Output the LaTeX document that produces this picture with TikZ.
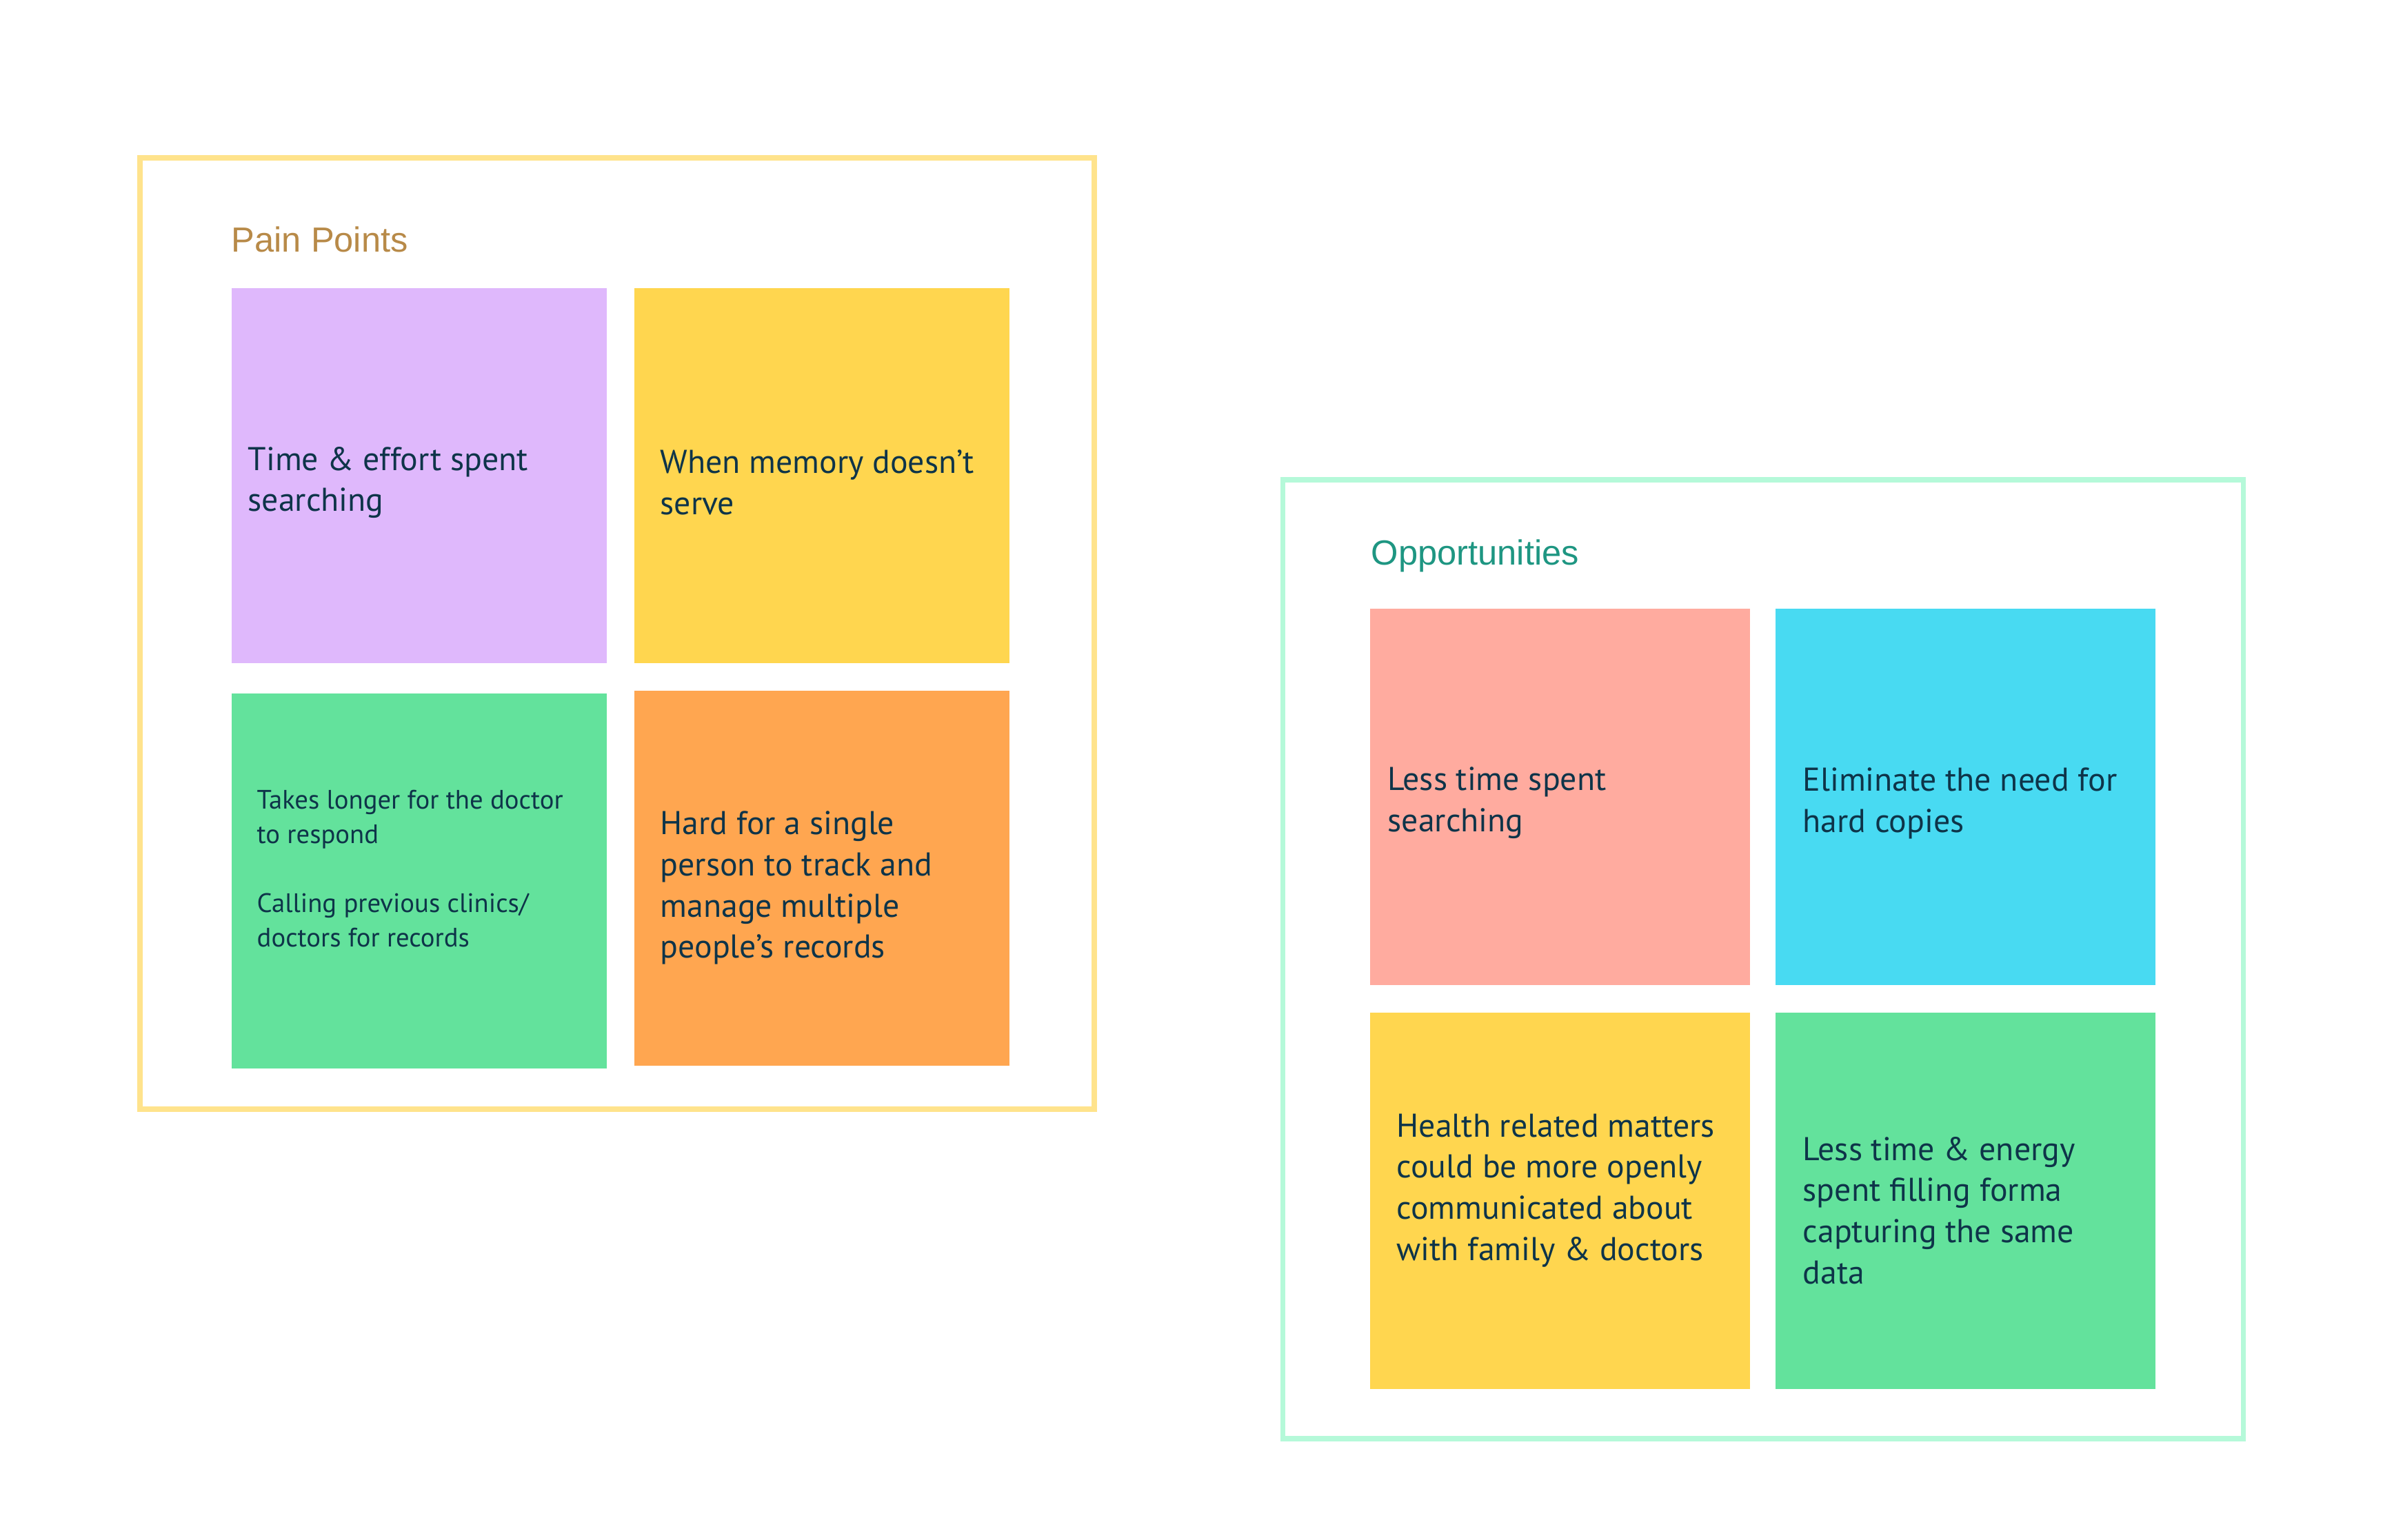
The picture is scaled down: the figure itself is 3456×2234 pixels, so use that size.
\documentclass[tikz,border=0pt]{standalone}
\usepackage{fontspec}
\setmainfont{PT Sans}
\newfontfamily\titlefont{Liberation Sans}
\definecolor{painframe}{HTML}{FFE38C}
\definecolor{paintitle}{HTML}{B88A48}
\definecolor{oppframe}{HTML}{B5F9D9}
\definecolor{opptitle}{HTML}{1E9682}
\definecolor{inktext}{HTML}{0E3449}
\definecolor{lilac}{HTML}{DFB8FC}
\definecolor{sunny}{HTML}{FFD64F}
\definecolor{mint}{HTML}{63E29C}
\definecolor{tangerine}{HTML}{FFA650}
\definecolor{salmon}{HTML}{FFAB9F}
\definecolor{skyblue}{HTML}{48DAF2}
\begin{document}
\begin{tikzpicture}[x=0.01cm, y=-0.01cm]
			\tikzset{
				board/.style={line width=2pt},
				boardtitle/.style={anchor=base west, inner sep=0, font=\titlefont\fontsize{14.4}{17}\selectfont},
				note/.style={anchor=north west, inner sep=0, draw=none},
				notetext/.style={anchor=west, inner sep=0, align=left, text=inktext, yshift=-0.05cm,
						font=\fontsize{13.6}{17}\selectfont},
				smalltext/.style={notetext, font=\fontsize{11}{14.2}\selectfont},
			}
			\useasboundingbox[fill=white] (0,0) rectangle (3456,2234);
			% pain points board
			\draw[board, painframe] (203,229) rectangle (1587,1609);
			\node[boardtitle, text=paintitle] (painTitle) at (335,366) {Pain Points};
			\node[note, fill=lilac, minimum width=5.44cm, minimum height=5.44cm] (painA) at (335,417) {};
			\node[note, fill=sunny, minimum width=5.44cm, minimum height=5.44cm] (painB) at (919,417) {};
			\node[note, fill=mint, minimum width=5.44cm, minimum height=5.44cm] (painC) at (335,1005) {};
			\node[note, fill=tangerine, minimum width=5.44cm, minimum height=5.44cm] (painD) at (919,1001) {};
			\node[notetext] (painAtext) at (359,695) {Time \& effort spent\\searching};
			\node[notetext] (painBtext) at (957,695) {When memory doesn’t\\serve};
			\node[smalltext] (painCtext) at (372,1255) {Takes longer for the doctor\\to respond\\[14.2pt]Calling previous clinics/\\doctors for records};
			\node[notetext] (painDtext) at (957,1283) {Hard for a single\\person to track and\\manage multiple\\people’s records};
			% opportunities board
			\draw[board, oppframe] (1860,696) rectangle (3253,2087);
			\node[boardtitle, text=opptitle] (oppTitle) at (1988,820) {Opportunities};
			\node[note, fill=salmon, minimum width=5.51cm, minimum height=5.46cm] (oppA) at (1986,882) {};
			\node[note, fill=skyblue, minimum width=5.51cm, minimum height=5.46cm] (oppB) at (2574,882) {};
			\node[note, fill=sunny, minimum width=5.51cm, minimum height=5.46cm] (oppC) at (1986,1468) {};
			\node[note, fill=mint, minimum width=5.51cm, minimum height=5.46cm] (oppD) at (2574,1468) {};
			\node[notetext] (oppAtext) at (2012,1160) {Less time spent\\searching};
			\node[notetext] (oppBtext) at (2614,1160) {Eliminate the need for\\hard copies};
			\node[notetext] (oppCtext) at (2025,1722) {Health related matters\\could be more openly\\communicated about\\with family \& doctors};
			\node[notetext] (oppDtext) at (2614,1751) {Less time \& energy\\spent filling forma\\capturing the same\\data};
		\end{tikzpicture}
\end{document}
